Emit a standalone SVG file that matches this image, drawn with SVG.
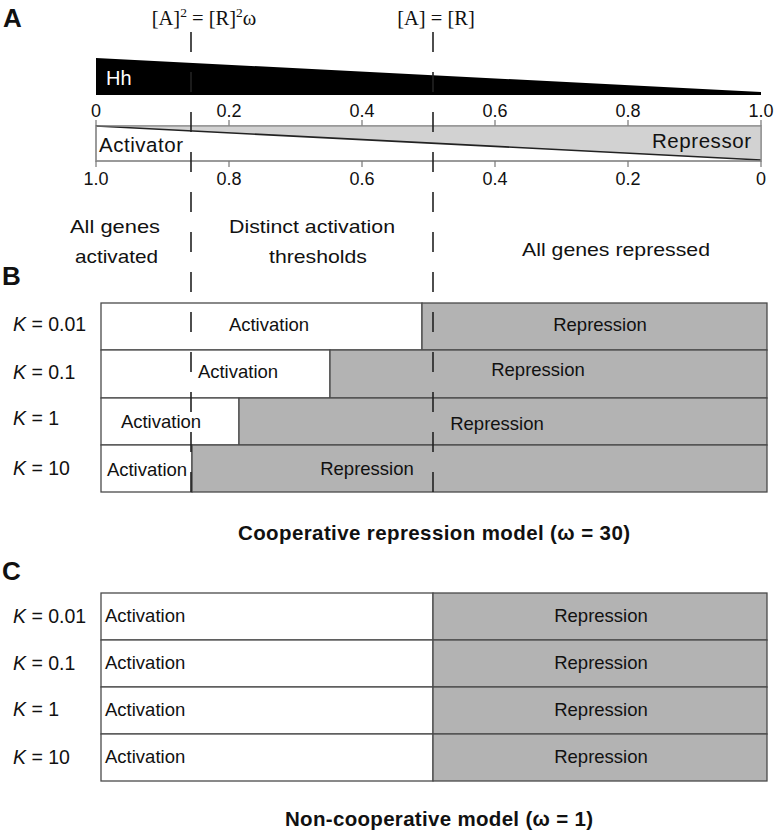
<svg xmlns="http://www.w3.org/2000/svg" width="776" height="834" viewBox="0 0 776 834">
<style>
text{font-family:"Liberation Sans",Arial,Helvetica,sans-serif;fill:#111}
.lbl{font-size:18.5px}
.ax{font-size:18px;text-anchor:middle}
.hd{font-size:19px;text-anchor:middle}
.kl{font-size:19.5px}
.pl{font-size:26px;font-weight:bold}
.tt{font-size:20.5px;font-weight:bold;text-anchor:middle}
.fm{font-family:"Liberation Serif","Times New Roman",serif;font-size:20.5px;text-anchor:middle}
.mid{text-anchor:middle}
.cell{stroke:#4a4a4a;stroke-width:1.3}
.act{fill:#ffffff}
.rep{fill:#b3b3b3}
.tick{stroke:#777;stroke-width:1.2}
.dash{stroke:#222;stroke-width:1.6;stroke-dasharray:20 20;fill:none}
</style>

<g id="panel-labels">
<text class="pl" x="3" y="27">A</text>
<text class="pl" x="2" y="285">B</text>
<text class="pl" x="2" y="580">C</text>
</g>

<g id="formulas">
<text class="fm" x="204" y="25">[A]<tspan font-size="13.5" dy="-8">2</tspan><tspan dy="8"> = [R]</tspan><tspan font-size="13.5" dy="-8">2</tspan><tspan dy="8">ω</tspan></text>
<text class="fm" x="436" y="25">[A] = [R]</text>
</g>

<g id="hh-gradient">
<polygon points="96,58 761,92 761,95 96,95" fill="#000"/>
<text x="106" y="85" font-size="20" style="fill:#fff">Hh</text>
</g>

<g id="top-axis">
<text class="ax" x="96" y="117">0</text>
<text class="ax" x="229" y="117">0.2</text>
<text class="ax" x="362" y="117">0.4</text>
<text class="ax" x="495" y="117">0.6</text>
<text class="ax" x="628" y="117">0.8</text>
<text class="ax" x="761" y="117">1.0</text>
<path class="tick" d="M96,120V126M229,120V126M362,120V126M495,120V126M628,120V126M761,120V126"/>
</g>

<g id="activator-repressor-bar">
<rect x="96" y="126" width="665" height="35" fill="#fff" stroke="#888" stroke-width="1.2"/>
<polygon points="96,126 761,126 761,160" fill="#d2d2d2"/>
<line x1="96" y1="126" x2="761" y2="160" stroke="#222" stroke-width="1.6"/>
<rect x="96" y="126" width="665" height="35" fill="none" stroke="#888" stroke-width="1.2"/>
<text x="99" y="152" font-size="20.5" textLength="84">Activator</text>
<text x="751" y="148" font-size="20.5" text-anchor="end" textLength="99">Repressor</text>
</g>

<g id="bottom-axis">
<path class="tick" d="M96,161V167M229,161V167M362,161V167M495,161V167M628,161V167M761,161V167"/>
<text class="ax" x="96" y="185">1.0</text>
<text class="ax" x="229" y="185">0.8</text>
<text class="ax" x="362" y="185">0.6</text>
<text class="ax" x="495" y="185">0.4</text>
<text class="ax" x="628" y="185">0.2</text>
<text class="ax" x="761" y="185">0</text>
</g>

<g id="regime-labels">
<text class="hd" x="115" y="233" textLength="90" lengthAdjust="spacingAndGlyphs">All genes</text>
<text class="hd" x="116.5" y="263" textLength="83" lengthAdjust="spacingAndGlyphs">activated</text>
<text class="hd" x="312" y="233" textLength="166" lengthAdjust="spacingAndGlyphs">Distinct activation</text>
<text class="hd" x="318" y="263" textLength="98" lengthAdjust="spacingAndGlyphs">thresholds</text>
<text class="hd" x="616" y="256" textLength="188" lengthAdjust="spacingAndGlyphs">All genes repressed</text>
</g>

<g id="panel-b">
<g id="b-row1">
<rect class="cell act" x="101" y="303" width="321" height="47"/>
<rect class="cell rep" x="422" y="303" width="345" height="47"/>
<text class="lbl mid" x="269" y="331">Activation</text>
<text class="lbl mid" x="600" y="331">Repression</text>
<text class="kl" x="13" y="331"><tspan font-style="italic">K</tspan> = 0.01</text>
</g>
<g id="b-row2">
<rect class="cell act" x="101" y="350" width="229" height="48"/>
<rect class="cell rep" x="330" y="350" width="437" height="48"/>
<text class="lbl mid" x="238" y="378">Activation</text>
<text class="lbl mid" x="538" y="376">Repression</text>
<text class="kl" x="13" y="379"><tspan font-style="italic">K</tspan> = 0.1</text>
</g>
<g id="b-row3">
<rect class="cell act" x="101" y="398" width="138" height="47"/>
<rect class="cell rep" x="239" y="398" width="528" height="47"/>
<text class="lbl mid" x="161" y="428">Activation</text>
<text class="lbl mid" x="497" y="430">Repression</text>
<text class="kl" x="13" y="425"><tspan font-style="italic">K</tspan> = 1</text>
</g>
<g id="b-row4">
<rect class="cell act" x="101" y="445" width="91" height="47"/>
<rect class="cell rep" x="192" y="445" width="575" height="47"/>
<text class="lbl mid" x="147" y="476">Activation</text>
<text class="lbl mid" x="367" y="475">Repression</text>
<text class="kl" x="13" y="475"><tspan font-style="italic">K</tspan> = 10</text>
</g>
<text class="tt" x="434" y="540" textLength="392">Cooperative repression model (ω = 30)</text>
</g>

<g id="connectors">
<line class="dash" x1="191" y1="32" x2="191" y2="492"/>
<line class="dash" x1="433" y1="32" x2="433" y2="492"/>
</g>

<g id="panel-c">
<g id="c-row1">
<rect class="cell act" x="101" y="593" width="332" height="47"/>
<rect class="cell rep" x="433" y="593" width="334" height="47"/>
<text class="lbl" x="105" y="622">Activation</text>
<text class="lbl mid" x="601" y="622">Repression</text>
<text class="kl" x="13" y="623"><tspan font-style="italic">K</tspan> = 0.01</text>
</g>
<g id="c-row2">
<rect class="cell act" x="101" y="640" width="332" height="47"/>
<rect class="cell rep" x="433" y="640" width="334" height="47"/>
<text class="lbl" x="105" y="669">Activation</text>
<text class="lbl mid" x="601" y="669">Repression</text>
<text class="kl" x="13" y="670"><tspan font-style="italic">K</tspan> = 0.1</text>
</g>
<g id="c-row3">
<rect class="cell act" x="101" y="687" width="332" height="47"/>
<rect class="cell rep" x="433" y="687" width="334" height="47"/>
<text class="lbl" x="105" y="716">Activation</text>
<text class="lbl mid" x="601" y="716">Repression</text>
<text class="kl" x="13" y="716"><tspan font-style="italic">K</tspan> = 1</text>
</g>
<g id="c-row4">
<rect class="cell act" x="101" y="734" width="332" height="47"/>
<rect class="cell rep" x="433" y="734" width="334" height="47"/>
<text class="lbl" x="105" y="763">Activation</text>
<text class="lbl mid" x="601" y="763">Repression</text>
<text class="kl" x="13" y="764"><tspan font-style="italic">K</tspan> = 10</text>
</g>
<text class="tt" x="439" y="826" textLength="308">Non-cooperative model (ω = 1)</text>
</g>
</svg>
